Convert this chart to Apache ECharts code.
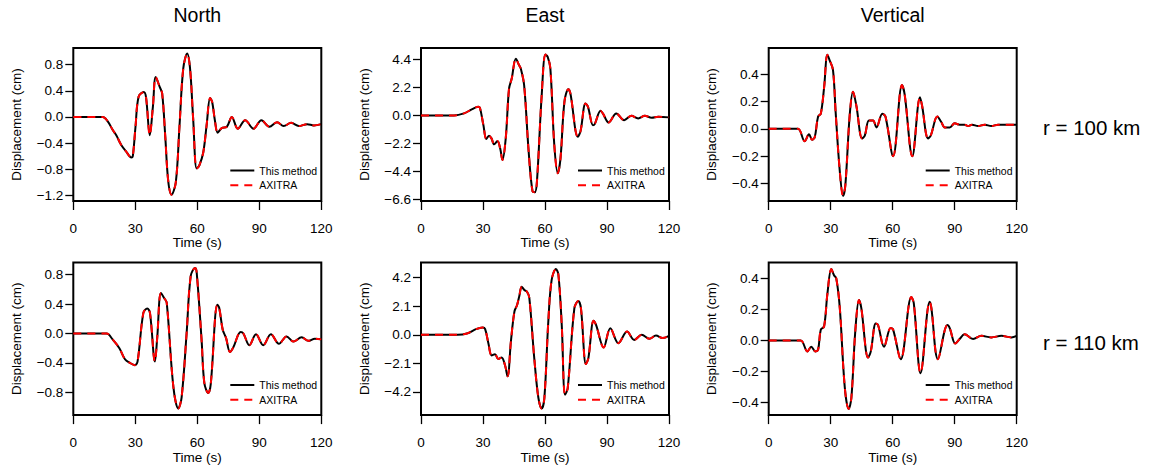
<!DOCTYPE html>
<html><head><meta charset="utf-8">
<script src="https://cdn.jsdelivr.net/npm/echarts@6/dist/echarts.min.js"></script>
<style>html,body{margin:0;padding:0;background:#fff}#c{width:1153px;height:465px}</style>
</head><body><div id="c"></div>
<script>
const columnTitles = ['North', 'East', 'Vertical'];
const rowLabels = ['r = 100 km', 'r = 110 km'];
const legendNames = ['This method', 'AXITRA'];
const xTickInterval = 30;

// North, r = 100 km
const tN100 = [0, 5, 10, 14.3, 16.5, 19.1, 20.8, 23.2, 25.6, 28.1, 28.8, 30.1, 31.6, 34.1, 35.2, 37, 38.5, 39.9, 41.8, 43, 44.5, 45.9, 47.5, 49.6, 51.4, 53.2, 55.1, 56.5, 58, 59.7, 61, 62.9, 64.5, 66.2, 67.2, 68.5, 69.9, 71.8, 74.3, 76.7, 79.6, 83.2, 87.2, 91, 94.9, 98.6, 101.8, 105.4, 109.1, 113.2, 116.4, 120];
const vN100 = [0, 0, 0, 0, -0.06, -0.20, -0.28, -0.43, -0.53, -0.62, -0.60, -0.15, 0.31, 0.38, 0.30, -0.28, 0.15, 0.61, 0.46, 0.36, -0.30, -0.97, -1.19, -1.00, -0.13, 0.74, 0.97, 0.74, -0.03, -0.79, -0.74, -0.54, -0.13, 0.29, 0.23, -0.05, -0.24, -0.17, -0.15, 0.00, -0.18, -0.05, -0.18, -0.05, -0.15, -0.08, -0.14, -0.09, -0.14, -0.11, -0.13, -0.11];
const yTicksN100 = [0.8, 0.4, 0, -0.4, -0.8, -1.2];

// East, r = 100 km
const tE100 = [0, 10, 15.9, 20.8, 24.8, 27.7, 28.5, 30.2, 31.6, 32.9, 34.1, 35.4, 37, 38.3, 39.4, 41, 42.6, 43.9, 45.9, 47.5, 48.3, 49.9, 52.1, 54, 55.1, 56.1, 58.4, 60.2, 61.3, 62.6, 64.5, 66.2, 67.5, 69.4, 71.3, 72.3, 75.9, 77.2, 79.6, 80.8, 83.2, 84, 86.9, 88, 90.8, 94.5, 98.3, 101.8, 105.1, 108.3, 111.6, 114.8, 120];
const vE100 = [0, 0, 0, 0.16, 0.50, 0.68, 0.60, -0.76, -1.85, -1.59, -1.80, -2.27, -2.01, -2.58, -3.50, -1.80, 2.11, 2.90, 4.46, 3.94, 3.68, 2.38, -2.85, -5.98, -6.03, -5.20, 1.59, 4.78, 4.60, 3.68, -2.32, -4.54, -3.37, 1.07, 2.06, 1.72, -1.67, -1.23, 0.94, 0.68, -0.76, -0.70, 0.37, 0.16, -0.55, 0.16, -0.37, -0.03, -0.23, -0.03, -0.18, -0.10, -0.15];
const yTicksE100 = [4.4, 2.2, 0, -2.2, -4.4, -6.6];

// Vertical, r = 100 km
const tV100 = [0, 10, 14.2, 17.4, 19.5, 21, 22.3, 23.9, 25.2, 26.8, 28.4, 29.5, 31.1, 32.4, 34.4, 36, 37.1, 39.2, 40.8, 42.4, 45.2, 46.5, 48.5, 50.5, 52.1, 55, 56.5, 60.2, 64.5, 65.8, 69.5, 73.2, 74.2, 77.1, 78.4, 81.6, 83.5, 85.2, 87.6, 90, 92.4, 94.8, 96.5, 98.4, 101.3, 104.5, 107.7, 111, 115, 120];
const vV100 = [0, 0, 0, -0.09, -0.04, -0.08, -0.06, 0.09, 0.11, 0.30, 0.54, 0.50, 0.43, 0.12, -0.31, -0.49, -0.41, 0.10, 0.27, 0.17, -0.07, -0.05, 0.06, 0.06, 0.01, 0.11, 0.09, -0.20, 0.32, 0.25, -0.20, 0.23, 0.17, -0.07, -0.05, 0.09, 0.05, 0.01, 0.01, 0.04, 0.03, 0.03, 0.02, 0.03, 0.02, 0.03, 0.02, 0.03, 0.03, 0.03];
const yTicksV100 = [0.4, 0.2, 0, -0.2, -0.4];

// North, r = 110 km
const tN110 = [0, 10, 16.1, 19, 22.3, 25, 27.4, 29.8, 31.1, 33.9, 35.8, 37.1, 39.5, 40.6, 42.4, 44, 45.2, 48.4, 50.8, 52.4, 54.8, 56.8, 58.9, 59.7, 62.1, 63.4, 65.3, 66.5, 69.7, 70.6, 72.3, 73.9, 75.8, 77.4, 81, 82.3, 85.2, 88.4, 91.9, 95.6, 99.5, 103.2, 106.5, 110.5, 113.7, 116.9, 120];
const vN110 = [0, 0, 0, -0.08, -0.20, -0.35, -0.40, -0.43, -0.38, 0.28, 0.34, 0.28, -0.38, -0.06, 0.55, 0.48, 0.42, -0.72, -1.02, -0.87, -0.01, 0.78, 0.89, 0.83, -0.10, -0.67, -0.81, -0.69, 0.39, 0.35, 0.05, -0.06, -0.25, -0.19, 0.02, 0.00, -0.16, -0.01, -0.16, -0.01, -0.14, -0.04, -0.11, -0.05, -0.10, -0.07, -0.08];
const yTicksN110 = [0.8, 0.4, 0, -0.4, -0.8];

// East, r = 110 km
const tE110 = [0, 10, 17.7, 22.6, 26.6, 29.8, 31, 32.6, 34.2, 35.8, 37.4, 39, 40.6, 41.9, 43.5, 45.2, 46.5, 47.6, 48.7, 50, 51.3, 52.4, 54.8, 56.8, 58.4, 59.7, 61.6, 63.2, 65.3, 66.5, 68.1, 69.7, 71, 74.2, 76.1, 77.4, 79.8, 81, 83.5, 84.7, 88.4, 91.6, 95.5, 99.7, 103.2, 106.8, 110.5, 113.7, 116.9, 120];
const vE110 = [0, 0, 0, 0.12, 0.42, 0.54, 0.44, -0.61, -1.51, -1.42, -1.78, -1.66, -2.20, -3.05, -0.49, 1.71, 2.20, 2.88, 3.54, 3.30, 3.17, 2.74, -1.71, -4.64, -5.42, -4.64, 0.98, 4.03, 4.84, 4.40, 0.73, -4.40, -3.91, 1.95, 2.49, 1.95, -2.15, -1.71, 1.03, 0.73, -0.93, 0.49, -0.61, 0.24, -0.37, 0.00, -0.29, -0.05, -0.24, -0.07];
const yTicksE110 = [4.2, 2.1, 0, -2.1, -4.2];

// Vertical, r = 110 km
const tV110 = [0, 10, 15.5, 18.7, 20.6, 22.6, 23.9, 25.2, 26.8, 28.4, 30.3, 31.6, 32.7, 34.4, 36.8, 38.7, 40, 41.9, 43.7, 44.8, 48.1, 49.4, 51.8, 52.9, 55.8, 59, 60.2, 63.9, 69, 70.2, 73.5, 77.9, 78.7, 81.9, 86.5, 87.6, 90.3, 92.4, 94.8, 98.9, 102.9, 107.7, 112.6, 117.4, 120];
const vV110 = [0, 0, 0, -0.07, -0.04, -0.07, -0.06, 0.07, 0.09, 0.30, 0.46, 0.42, 0.40, 0.21, -0.30, -0.44, -0.37, 0.06, 0.26, 0.21, -0.11, -0.07, 0.11, 0.10, -0.04, 0.08, 0.07, -0.12, 0.28, 0.24, -0.21, 0.25, 0.21, -0.12, 0.10, 0.08, -0.02, 0.01, 0.04, 0.01, 0.03, 0.02, 0.03, 0.02, 0.03];
const yTicksV110 = [0.4, 0.2, 0, -0.2, -0.4];

const FONT = '"Liberation Sans", Arial, Helvetica, sans-serif';
const panels = [
  { t: tN100, v: vN100, ticks: yTicksN100, min: -1.286, max: 1.055 },
  { t: tE100, v: vE100, ticks: yTicksE100, min: -6.72, max: 5.3 },
  { t: tV100, v: vV100, ticks: yTicksV100, min: -0.527, max: 0.59 },
  { t: tN110, v: vN110, ticks: yTicksN110, min: -1.109, max: 0.965 },
  { t: tE110, v: vE110, ticks: yTicksE110, min: -5.9, max: 5.32 },
  { t: tV110, v: vV110, ticks: yTicksV110, min: -0.48, max: 0.502 }
];
const colLeft = [73.3, 421, 768.7];
const rowTop = [48, 262.5];
const boxW = 248, boxH = 153;

const fmt = v => (v < 0 ? '\u2212' : '') + Math.abs(v).toFixed(1);

const grid = [], xAxis = [], yAxis = [], series = [], legend = [];
panels.forEach((p, i) => {
  const col = i % 3, row = Math.floor(i / 3);
  grid.push({ left: colLeft[col], top: rowTop[row], width: boxW, height: boxH, show: true,
    borderColor: '#000', borderWidth: 2, backgroundColor: 'transparent' });
  xAxis.push({ gridIndex: i, type: 'value', min: 0, max: 120, interval: xTickInterval,
    axisLine: { show: false, onZero: false },
    axisTick: { show: true, length: 9, lineStyle: { color: '#000', width: 1.3 } },
    axisLabel: { margin: 20, fontSize: 13.5, color: '#000', fontFamily: FONT },
    splitLine: { show: false },
    name: 'Time (s)', nameLocation: 'middle', nameGap: 34,
    nameTextStyle: { fontSize: 13.5, color: '#000', fontFamily: FONT } });
  yAxis.push({ gridIndex: i, type: 'value', min: p.min, max: p.max,
    axisLine: { show: false, onZero: false },
    axisTick: { show: true, length: 8, customValues: p.ticks, lineStyle: { color: '#000', width: 1.3 } },
    axisLabel: { customValues: p.ticks, formatter: fmt, margin: 10, fontSize: 13.5, color: '#000', fontFamily: FONT },
    splitLine: { show: false },
    name: 'Displacement (cm)', nameLocation: 'middle', nameGap: 50,
    nameTextStyle: { fontSize: 13.5, color: '#000', fontFamily: FONT } });
  const pts = p.t.map((t, k) => [t, p.v[k]]);
  series.push({ name: legendNames[0], type: 'line', xAxisIndex: i, yAxisIndex: i, data: pts,
    symbol: 'none', smooth: 0.35, lineStyle: { color: '#000', width: 2 }, itemStyle: { color: '#000' }, silent: true });
  series.push({ name: legendNames[1], type: 'line', xAxisIndex: i, yAxisIndex: i, data: pts,
    symbol: 'none', smooth: 0.35, lineStyle: { color: '#ff0000', width: 2, type: [8, 6] }, itemStyle: { color: '#ff0000' }, silent: true });
  legend.push({ data: legendNames, orient: 'vertical', left: colLeft[col] + 156, top: rowTop[row] + 117,
    padding: 0, itemWidth: 24, itemHeight: 12, itemGap: 3.8, selectedMode: false,
    itemStyle: { opacity: 0 },
    lineStyle: { width: 2 },
    textStyle: { fontSize: 10.5, color: '#000', fontFamily: FONT } });
});

const graphic = [];
columnTitles.forEach((txt, c) => {
  graphic.push({ type: 'text', x: colLeft[c] + boxW / 2, y: 15,
    style: { text: txt, fontSize: 19.5, fontFamily: FONT, fill: '#000', align: 'center', verticalAlign: 'middle', textAlign: 'center', textVerticalAlign: 'middle' } });
});
rowLabels.forEach((txt, r) => {
  graphic.push({ type: 'text', x: 1043, y: rowTop[r] + 79.5,
    style: { text: txt, fontSize: 20.5, fontFamily: FONT, fill: '#000', align: 'left', verticalAlign: 'middle', textAlign: 'left', textVerticalAlign: 'middle' } });
});

const chart = echarts.init(document.getElementById('c'), null, { renderer: 'svg' });
chart.setOption({ backgroundColor: '#fff', animation: false, grid, xAxis, yAxis, series, legend, graphic });
</script></body></html>
